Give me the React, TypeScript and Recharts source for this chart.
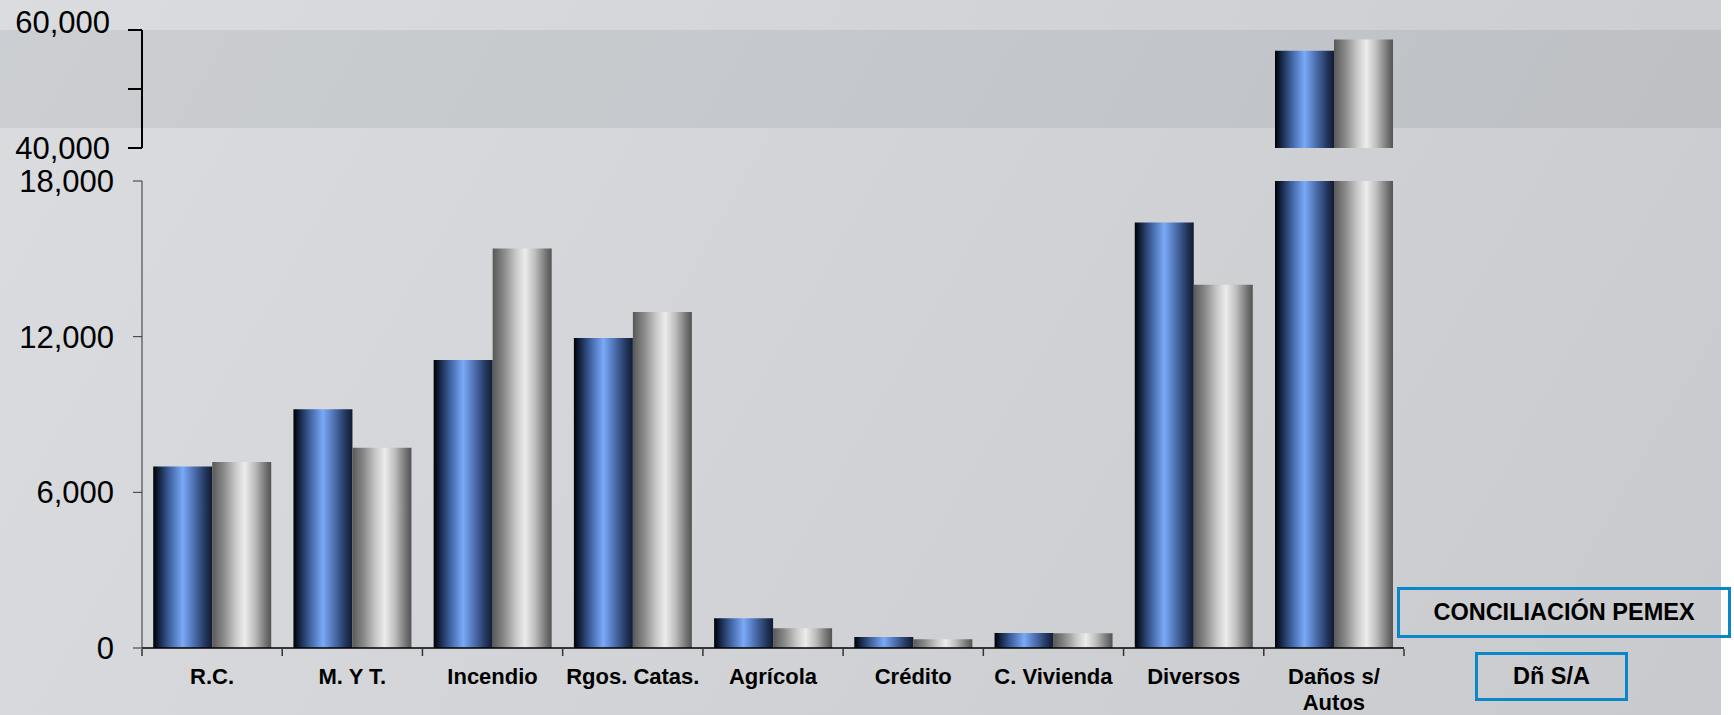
import * as React from "react";
import { BarChart, Bar, XAxis, YAxis } from "recharts";

// ramos (categorías del eje X)
const categories = [
  "R.C.",
  "M. Y T.",
  "Incendio",
  "Rgos. Catas.",
  "Agrícola",
  "Crédito",
  "C. Vivienda",
  "Diversos",
  "Daños s/ Autos",
];

// serie azul y serie gris
const serieAzul = [7000, 9200, 11100, 11950, 1150, 420, 580, 16400, 56500];
const serieGris = [7170, 7720, 15400, 12950, 760, 340, 570, 14000, 58400];

const lowerTicks = [0, 6000, 12000, 18000];
const upperTicks = [40000, 50000, 60000];
const upperLabelled = [40000, 60000];

const boxTop = "CONCILIACIÓN PEMEX";
const boxBottom = "Dñ S/A";

const FONT = "'Liberation Sans', Arial, Helvetica, sans-serif";
const PAGE_W = 1734;
const PAGE_H = 715;
const PLOT_LEFT = 142;
const PLOT_RIGHT = 1404;

const fmt = (v: number) => v.toLocaleString("en-US");

const lowerData = categories.map((name, i) => ({
  name,
  slot: i + 0.5,
  azul: serieAzul[i],
  gris: serieGris[i],
}));

// only values above the axis break show in the upper panel
const breakLow = upperTicks[0];
const upperData = categories.map((name, i) => ({
  name,
  azul: serieAzul[i] > breakLow ? serieAzul[i] : null,
  gris: serieGris[i] > breakLow ? serieGris[i] : null,
}));

const slotEdges = categories.map((_, i) => i).concat(categories.length);

const wrap = (text: string, max = 12) => {
  const words = text.split(/\s+/);
  const lines: string[] = [];
  let cur = "";
  for (const w of words) {
    const next = cur ? `${cur} ${w}` : w;
    if (next.length > max) {
      if (cur) lines.push(cur);
      cur = w;
    } else {
      cur = next;
    }
  }
  if (cur) lines.push(cur);
  return lines;
};

const CategoryTick = (props: any) => {
  const { x = 0, y = 0, payload = { value: "" } } = props;
  const lines = wrap(String(payload.value));
  return (
    <g transform={`translate(${x},${y})`}>
      <text
        textAnchor="middle"
        fontFamily={FONT}
        fontWeight={700}
        fontSize={22}
        fill="#000"
      >
        {lines.map((line, i) => (
          <tspan key={i} x={0} y={36 + i * 26}>
            {line}
          </tspan>
        ))}
      </text>
    </g>
  );
};

const ValueTick = (props: any) => {
  const { x = 0, y = 0, payload = { value: 0 }, labelled, topValue } = props;
  const v = Number(payload.value);
  if (labelled && !labelled.includes(v)) return null;
  const shift = v === topValue ? -8 : 0;
  return (
    <text
      x={x}
      y={y + shift}
      dy="0.36em"
      textAnchor="end"
      fontFamily={FONT}
      fontSize={31}
      fill="#000"
    >
      {fmt(v)}
    </text>
  );
};

const Gradients = (prefix: string) => (
  <defs>
    <linearGradient id={`${prefix}-azul`} x1="0" y1="0" x2="1" y2="0">
      <stop offset="0%" stopColor="#000000" />
      <stop offset="8%" stopColor="#0f1c36" />
      <stop offset="28%" stopColor="#3f62a0" />
      <stop offset="50%" stopColor="#7aa9f7" />
      <stop offset="70%" stopColor="#4a6dab" />
      <stop offset="88%" stopColor="#24375f" />
      <stop offset="100%" stopColor="#111b31" />
    </linearGradient>
    <linearGradient id={`${prefix}-gris`} x1="0" y1="0" x2="1" y2="0">
      <stop offset="0%" stopColor="#585858" />
      <stop offset="20%" stopColor="#8c8c8c" />
      <stop offset="40%" stopColor="#cacaca" />
      <stop offset="55%" stopColor="#ececec" />
      <stop offset="72%" stopColor="#bdbdbd" />
      <stop offset="90%" stopColor="#767676" />
      <stop offset="100%" stopColor="#535353" />
    </linearGradient>
  </defs>
);

const boxStyle: React.CSSProperties = {
  position: "absolute",
  boxSizing: "border-box",
  border: "3px solid #0b86c9",
  display: "flex",
  alignItems: "center",
  justifyContent: "center",
  fontFamily: FONT,
  fontWeight: 700,
  fontSize: 23.5,
  color: "#000",
};

export default function App() {
  const chartW = PAGE_W;
  const marginRight = PAGE_W - PLOT_RIGHT;

  return (
    <div
      style={{
        position: "absolute",
        left: 0,
        top: 0,
        width: PAGE_W,
        height: PAGE_H,
        background: "#ffffff",
        overflow: "hidden",
      }}
    >
      {/* slide background */}
      <div
        style={{
          position: "absolute",
          left: 0,
          top: 0,
          width: 1721,
          height: PAGE_H,
          background:
            "linear-gradient(120deg, #dadcdf 0%, #d2d4d7 45%, #c8cacd 100%)",
        }}
      />
      {/* darker band behind the upper panel */}
      <div
        style={{
          position: "absolute",
          left: 0,
          top: 30,
          width: 1721,
          height: 98,
          background: "rgba(40,50,65,0.08)",
        }}
      />

      {/* upper panel: 40,000 - 60,000 */}
      <div style={{ position: "absolute", left: 0, top: 0 }}>
        <BarChart
          width={chartW}
          height={175}
          data={upperData}
          margin={{ top: 30, right: marginRight, left: 0, bottom: 27 }}
          barCategoryGap="8%"
          barGap={0}
        >
          {Gradients("up")}
          <XAxis dataKey="name" hide />
          <YAxis
            width={PLOT_LEFT}
            domain={[upperTicks[0], upperTicks[upperTicks.length - 1]]}
            ticks={upperTicks}
            allowDataOverflow
            interval={0}
            tickSize={14}
            tickMargin={18}
            tickLine={{ stroke: "#000", strokeWidth: 2 }}
            axisLine={{ stroke: "#000", strokeWidth: 2 }}
            tick={
              <ValueTick
                labelled={upperLabelled}
                topValue={upperTicks[upperTicks.length - 1]}
              />
            }
          />
          <Bar dataKey="azul" fill="url(#up-azul)" isAnimationActive={false} />
          <Bar dataKey="gris" fill="url(#up-gris)" isAnimationActive={false} />
        </BarChart>
      </div>

      {/* lower panel: 0 - 18,000 */}
      <div style={{ position: "absolute", left: 0, top: 150 }}>
        <BarChart
          width={chartW}
          height={565}
          data={lowerData}
          margin={{ top: 31, right: marginRight, left: 0, bottom: 65 }}
          barCategoryGap="8%"
          barGap={0}
        >
          {Gradients("lo")}
          <XAxis
            xAxisId="cat"
            dataKey="name"
            interval={0}
            height={1}
            tickLine={false}
            tickSize={0}
            tickMargin={0}
            axisLine={{ stroke: "#000", strokeWidth: 1.5 }}
            tick={<CategoryTick />}
          />
          <XAxis
            xAxisId="edge"
            type="number"
            dataKey="slot"
            domain={[0, categories.length]}
            ticks={slotEdges}
            interval={0}
            height={1}
            axisLine={false}
            tickSize={7}
            tickLine={{ stroke: "#333", strokeWidth: 1.5 }}
            tickFormatter={() => ""}
          />
          <YAxis
            width={PLOT_LEFT}
            domain={[lowerTicks[0], lowerTicks[lowerTicks.length - 1]]}
            ticks={lowerTicks}
            allowDataOverflow
            interval={0}
            tickSize={9}
            tickMargin={19}
            tickLine={{ stroke: "#333", strokeWidth: 1 }}
            axisLine={{ stroke: "#333", strokeWidth: 1 }}
            tick={<ValueTick />}
          />
          <Bar
            xAxisId="cat"
            dataKey="azul"
            fill="url(#lo-azul)"
            isAnimationActive={false}
          />
          <Bar
            xAxisId="cat"
            dataKey="gris"
            fill="url(#lo-gris)"
            isAnimationActive={false}
          />
        </BarChart>
      </div>

      {/* annotation boxes */}
      <div style={{ ...boxStyle, left: 1397, top: 587, width: 334, height: 51 }}>
        {boxTop}
      </div>
      <div style={{ ...boxStyle, left: 1475, top: 652, width: 153, height: 49 }}>
        {boxBottom}
      </div>
    </div>
  );
}
